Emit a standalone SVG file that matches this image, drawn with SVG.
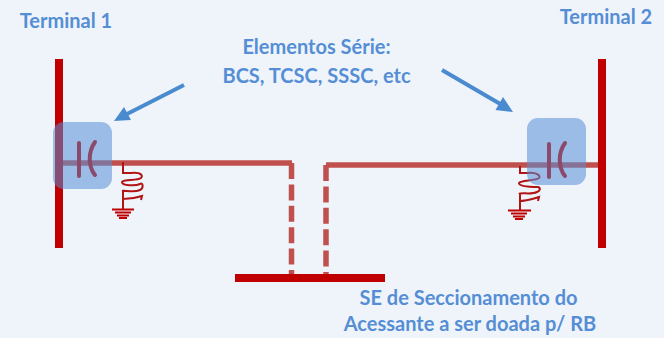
<svg xmlns="http://www.w3.org/2000/svg" width="664" height="338" viewBox="0 0 664 338">
<style>
text{font-family:Lato,"Open Sans","Liberation Sans",sans-serif;font-weight:700;font-size:20px;fill:#558ed5;text-anchor:middle}
.bus{fill:#c00000}
.ln{fill:none;stroke:#c0504d;stroke-width:5.5}
.dash{fill:none;stroke:#c0504d;stroke-width:5.5;stroke-dasharray:16 5.4}
.arr{fill:none;stroke:#4a8bd0;stroke-width:4}
.hd{fill:#4a8bd0}
.box{fill:#558ed5;fill-opacity:.55}
.cap{fill:none;stroke:#8b4a6b;stroke-width:4;stroke-linecap:round}
.ind{fill:none;stroke:#b01414;stroke-width:2}
.gnd{fill:none;stroke:#c00000;stroke-width:1.8}
</style>
<rect width="664" height="338" fill="#eff4fb"/>
<g id="connectors">
<path class="ln" d="M59 163H292"/>
<path class="ln" d="M601 165H326"/>
<path class="dash" d="M291.500 163V275"/>
<path class="dash" d="M326 165V275"/>
<path class="arr" d="M184 85L125 115"/>
<path class="hd" d="M114 121L124 107L131 120Z"/>
<path class="arr" d="M442 70L502 105"/>
<path class="hd" d="M513 112L495.500 110L503 97Z"/>
</g>
<g id="terminal1"><rect class="bus" x="55" y="59" width="8" height="189"/><text x="66" y="28">Terminal 1</text></g>
<g id="terminal2"><rect class="bus" x="598" y="59" width="8" height="189"/><text x="606" y="24">Terminal 2</text></g>
<g id="se-bus"><rect class="bus" x="235" y="274" width="150" height="8"/><text x="468.500" y="305">SE de Seccionamento do</text><text x="470" y="331">Acessante a ser doada p/ RB</text></g>
<g id="label-elementos"><text x="316.500" y="54">Elementos Série:</text><text x="316.500" y="83">BCS, TCSC, SSSC, etc</text></g>
<g id="ind1">
<path class="ind" d="M123 162V173H131C142 172 143 176 141 178C137 181 124 179 122 182C122 186 136 186 140 184C143 182 144 188 140 190C134 193 124 190 122 191M123 199C130 199 136 198 142 196L141 200M123 191V209"/>
<path class="gnd" d="M112 209.500H134M115 212.500H131M117 215.500H129M119 218H127"/>
</g>
<g id="ind2">
<path class="ind" d="M520 166V173H528C537 172 541 176 539 178C535 181 521 180 519 183C519 187 534 187 538 187C541 188 540 191 537 192C531 195 521 192 519 194M519 201C526 201 532 199 539 197L538 201M520 194V210"/>
<path class="gnd" d="M508 210.500H531M511 213.500H527M513 216.500H525M515 219H523"/>
</g>
<g id="comp1">
<rect class="box" x="53" y="122" width="59" height="67" rx="11"/>
<path class="cap" d="M79 143V176M95 142C88 152 88 166 95 175"/>
</g>
<g id="comp2">
<rect class="box" x="527" y="118" width="59" height="67" rx="11"/>
<path class="cap" d="M549 144V177M565 143C558 153 558 167 565 176"/>
</g>
</svg>
